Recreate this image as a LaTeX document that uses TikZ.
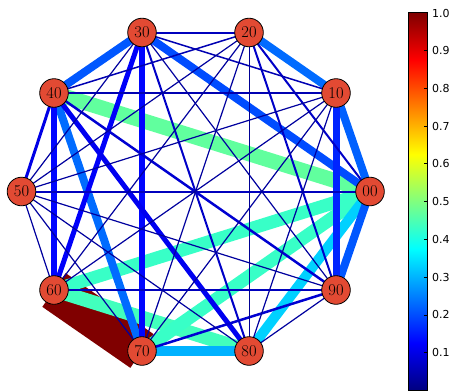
\documentclass[tikz,border=0pt]{standalone}
\usepackage{fontspec}
\newfontfamily\dejavu{DejaVu Sans}
\pgfdeclarelayer{bg}
\pgfsetlayers{bg,main}
\definecolor{nodefill}{RGB}{226,74,51}
\definecolor{jA}{rgb}{0,0,0.5}
\definecolor{jB}{rgb}{0,0,1}
\definecolor{jC}{rgb}{0,1,1}
\definecolor{jD}{rgb}{1,1,0}
\definecolor{jE}{rgb}{1,0,0}
\definecolor{jF}{rgb}{0.5,0,0}
\pgfdeclareverticalshading{jetbar}{100bp}{color(0bp)=(jA); color(25bp)=(jA); color(31.25bp)=(jB); color(43.75bp)=(jC); color(56.25bp)=(jD); color(68.75bp)=(jE); color(75bp)=(jF); color(100bp)=(jF)}
\newcommand\jetcolor[2]{%
  \pgfmathsetmacro\jr{max(0,min(1,min(4*#1-1.5,-4*#1+4.5)))}%
  \pgfmathsetmacro\jg{max(0,min(1,min(4*#1-0.5,-4*#1+3.5)))}%
  \pgfmathsetmacro\jb{max(0,min(1,min(4*#1+0.5,-4*#1+2.5)))}%
  \definecolor{#2}{rgb}{\jr,\jg,\jb}}
\newcommand\edge[4]{\jetcolor{#3}{ec}\draw[line width=#4pt, draw=ec] (n#1.center) -- (n#2.center);}
\tikzset{
  vert/.style={circle, draw=black, line width=0.8pt, fill=nodefill, minimum size=28.6pt, inner sep=0pt,
    font=\fontsize{16.5}{18}\selectfont},
  cblabel/.style={anchor=west, inner sep=0pt, font=\dejavu\fontsize{11}{12}\selectfont}
}
\begin{document}
\begin{tikzpicture}[x=1pt,y=-1pt]
\useasboundingbox (0,0) rectangle (452,391);
\node[vert] (n00) at (370,191.5) {00};
\node[vert] (n10) at (336,93) {10};
\node[vert] (n20) at (249,32.5) {20};
\node[vert] (n30) at (142,32.5) {30};
\node[vert] (n40) at (54,93) {40};
\node[vert] (n50) at (21.5,191.5) {50};
\node[vert] (n60) at (54,290) {60};
\node[vert] (n70) at (142,351) {70};
\node[vert] (n80) at (249,351) {80};
\node[vert] (n90) at (336,290) {90};
\begin{pgfonlayer}{bg}
\edge{60}{70}{1.0}{41}
\edge{00}{40}{0.47}{15}
\edge{60}{80}{0.44}{14}
\edge{00}{70}{0.43}{13}
\edge{00}{60}{0.43}{13}
\edge{00}{80}{0.33}{10}
\edge{70}{80}{0.30}{10}
\edge{40}{70}{0.23}{8}
\edge{10}{20}{0.23}{8}
\edge{00}{10}{0.22}{8}
\edge{00}{30}{0.20}{8}
\edge{30}{40}{0.21}{8}
\edge{00}{90}{0.21}{8}
\edge{10}{90}{0.16}{7}
\edge{30}{70}{0.13}{6}
\edge{40}{60}{0.13}{6}
\edge{30}{60}{0.12}{5}
\edge{40}{80}{0.11}{5}
\edge{40}{50}{0.10}{3}
\edge{40}{90}{0.08}{2.5}
\edge{70}{90}{0.08}{2.5}
\edge{20}{90}{0.07}{2}
\edge{30}{80}{0.07}{2}
\edge{00}{20}{0.07}{2}
\edge{20}{30}{0.06}{2}
\edge{00}{50}{0.06}{2}
\edge{60}{90}{0.06}{2}
\edge{10}{30}{0.05}{1.5}
\edge{10}{40}{0.05}{1.5}
\edge{20}{40}{0.05}{1.5}
\edge{10}{50}{0.03}{1.2}
\edge{10}{60}{0.03}{1.2}
\edge{10}{70}{0.03}{1.2}
\edge{10}{80}{0.03}{1.2}
\edge{20}{50}{0.03}{1.2}
\edge{20}{60}{0.03}{1.2}
\edge{20}{70}{0.03}{1.2}
\edge{30}{50}{0.03}{1.2}
\edge{30}{90}{0.03}{1.2}
\edge{50}{60}{0.03}{1.2}
\edge{50}{70}{0.03}{1.2}
\edge{50}{80}{0.03}{1.2}
\edge{50}{90}{0.03}{1.2}
\edge{80}{90}{0.03}{1.2}
\edge{20}{80}{0.02}{1}
\end{pgfonlayer}
% colorbar
\shade[shading=jetbar] (408.3,12.7) rectangle (427.3,390.5);
\draw[line width=0.8pt] (408.3,12.7) rectangle (427.3,390.5);
\foreach \v/\t in {1/0.1,2/0.2,3/0.3,4/0.4,5/0.5,6/0.6,7/0.7,8/0.8,9/0.9}{
  \draw[line width=0.8pt] (427.3,{390.5-37.78*\v}) -- (424.3,{390.5-37.78*\v});
  \node[cblabel] (cb\v) at (432,{390.5-37.78*\v}) {\t};
}
\node[cblabel] (cb10) at (432,13.2) {1.0};
\end{tikzpicture}
\end{document}
